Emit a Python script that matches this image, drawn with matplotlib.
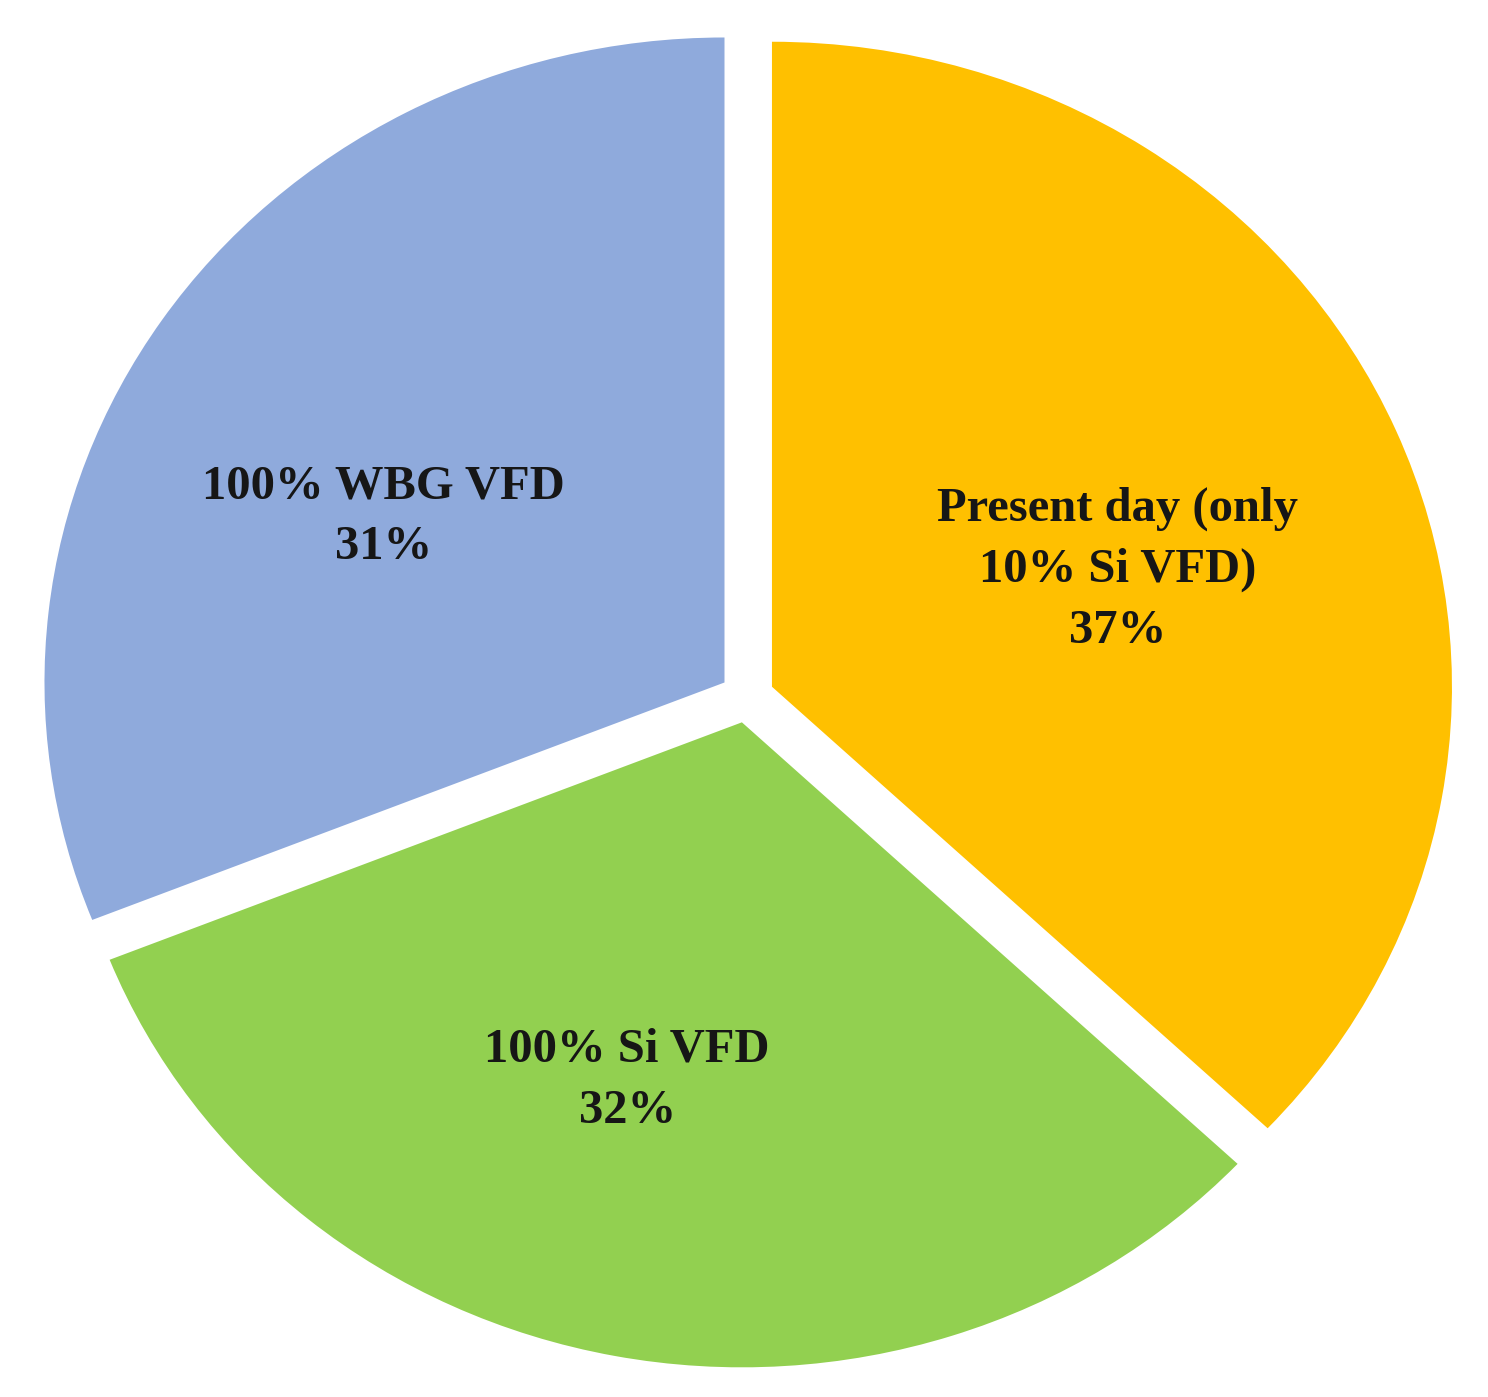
import numpy as np
import matplotlib.pyplot as plt

# slice data, clockwise from 12 o'clock
labels = ['Present day (only\n10% Si VFD)', '100% Si VFD', '100% WBG VFD']
values = [37, 32, 31]
colors = ['#FFC000', '#92D050', '#8FAADC']

fig = plt.figure(figsize=(14.88, 13.97), dpi=100)
ax = fig.add_axes([0, 0, 1, 1])

wedges, texts, autotexts = ax.pie(
    values, colors=colors, startangle=90, counterclock=False,
    explode=[0.04, 0.04, 0.04], autopct='%d%%', pctdistance=0.56,
    wedgeprops=dict(linewidth=0),
    textprops=dict(family='Liberation Serif', fontweight='bold',
                   fontsize=35, color='#161616', linespacing=1.5))

# label placement inside each wedge (angle in degrees, fraction of radius)
label_ang = [19.6, -106.9, 152.9]
label_rad = [0.54, 0.58, 0.564]

for w, t, lab, v, a, r in zip(wedges, autotexts, labels, values, label_ang, label_rad):
    t.set_text(f'{lab}\n{v}%')
    t.set_ha('center')
    t.set_va('center')
    cx, cy = w.center
    t.set_position((cx + r * np.cos(np.radians(a)), cy + r * np.sin(np.radians(a))))

# stretch slightly horizontally like the source figure
ax.set_aspect('auto')
ax.set_xlim(-1.0985, 1.0897)
ax.set_ylim(-1.0853, 1.0806)
ax.axis('off')

fig.savefig('out.png', dpi=100, facecolor='white')
